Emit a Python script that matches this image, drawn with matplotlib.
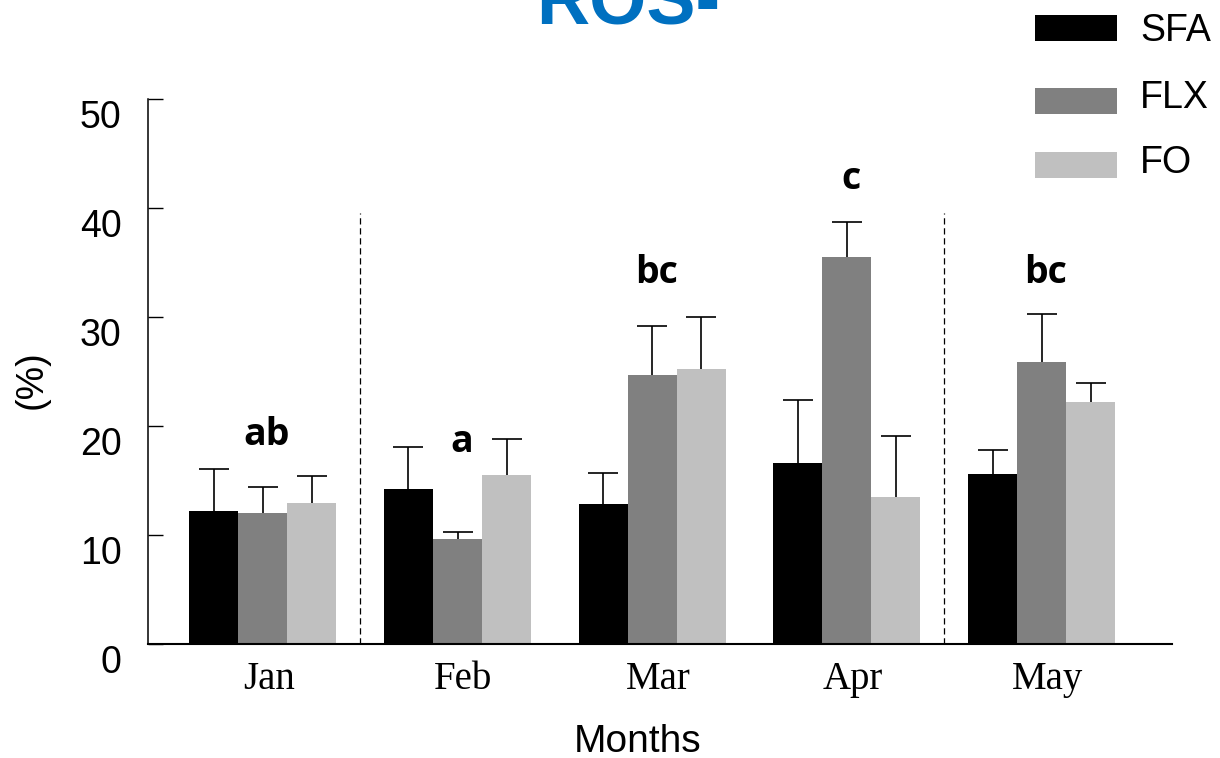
import matplotlib
matplotlib.use("Agg")
import matplotlib.pyplot as plt
import matplotlib.transforms as mtransforms
from matplotlib.patches import Rectangle
import numpy as np

months = ["Jan", "Feb", "Mar", "Apr", "May"]
series = ["SFA", "FLX", "FO"]
colors = ["#000000", "#808080", "#C0C0C0"]
sfa = [12.2, 14.2, 12.8, 16.6, 15.6]
flx = [12.0, 9.6, 24.7, 35.5, 25.9]
fo = [12.9, 15.5, 25.2, 13.5, 22.2]
sfa_err = [3.9, 3.9, 2.9, 5.8, 2.2]
flx_err = [2.4, 0.7, 4.5, 3.2, 4.4]
fo_err = [2.5, 3.3, 4.8, 5.6, 1.7]
letters = ["ab", "a", "bc", "c", "bc"]
letter_y = [18.3, 17.6, 33.1, 41.7, 33.1]
yticks = [0, 10, 20, 30, 40, 50]
title = "ROS-"

fig = plt.figure(figsize=(12.2, 7.58), dpi=100)
ax = fig.add_axes([148/1220, 114/758, (1172-148)/1220, (644-99)/758])

x = np.arange(len(months))
w = 0.252
vals = [sfa, flx, fo]
errs = [sfa_err, flx_err, fo_err]
for i, (v, e, c) in enumerate(zip(vals, errs, colors)):
    pos = x + (i - 1) * w
    ax.bar(pos, v, width=w, color=c, edgecolor='none', zorder=2)
    eb = ax.errorbar(pos, v, yerr=[np.zeros(len(e)), e], fmt='none', ecolor='black',
                     elinewidth=1.2, capsize=10.5, capthick=1.2, zorder=3)
    eb[1][0].set_visible(False)

for xv in [0.5, 3.5]:
    ax.plot([xv, xv], [0, 39.5], color='black', lw=0.9, ls=(0, (5, 3)), zorder=1)

for xi, lab, ly in zip(x, letters, letter_y):
    ax.text(xi + 0.02, ly, lab, ha='center', va='baseline', fontsize=27,
            fontweight='bold', family='Open Sans')

ax.set_xlim(-0.59, 4.67)
ax.set_ylim(0, 50)
ax.set_yticks(yticks)
ax.set_yticklabels([str(t) for t in yticks], fontsize=27, family='Liberation Sans')
ax.set_xticks(x)
ax.set_xticklabels(months, fontsize=28, family='Liberation Serif')
ax.tick_params(axis='y', direction='in', length=11, width=1, pad=19)
ax.tick_params(axis='x', length=0, pad=12)
off = mtransforms.ScaledTranslation(0, -15/100, fig.dpi_scale_trans)
for lbl in ax.get_yticklabels():
    lbl.set_transform(lbl.get_transform() + off)
offx = mtransforms.ScaledTranslation(6/100, 0, fig.dpi_scale_trans)
for lbl in ax.get_xticklabels():
    lbl.set_transform(lbl.get_transform() + offx)

for s in ['top', 'right']:
    ax.spines[s].set_visible(False)
ax.spines['left'].set_linewidth(1.1)
ax.spines['bottom'].set_linewidth(1.5)

fig.text(638/1220, 1 - 742/758, "Months", ha='center', va='center',
         fontsize=28, family='Liberation Sans')
fig.text(32/1220, 1 - 380/758, "(%)", ha='center', va='center', rotation=90,
         fontsize=27, family='Liberation Sans')

fig.text(628/1220, 1 - 24/758, title, ha='center', va='baseline', fontsize=53,
         fontweight='bold', color='#0070C0', family='Liberation Sans')

leg_patch_y = [28, 101, 165]
leg_text_y = [31, 98, 163]
for lab, c, py, ty in zip(series, colors, leg_patch_y, leg_text_y):
    fig.patches.append(Rectangle((1035/1220, 1 - (py + 13)/758), 82/1220, 26/758,
                                 transform=fig.transFigure, facecolor=c,
                                 edgecolor='none'))
    fig.text(1140/1220, 1 - ty/758, lab, ha='left', va='center', fontsize=27,
             family='Liberation Sans')

fig.savefig("out.png", dpi=100)
